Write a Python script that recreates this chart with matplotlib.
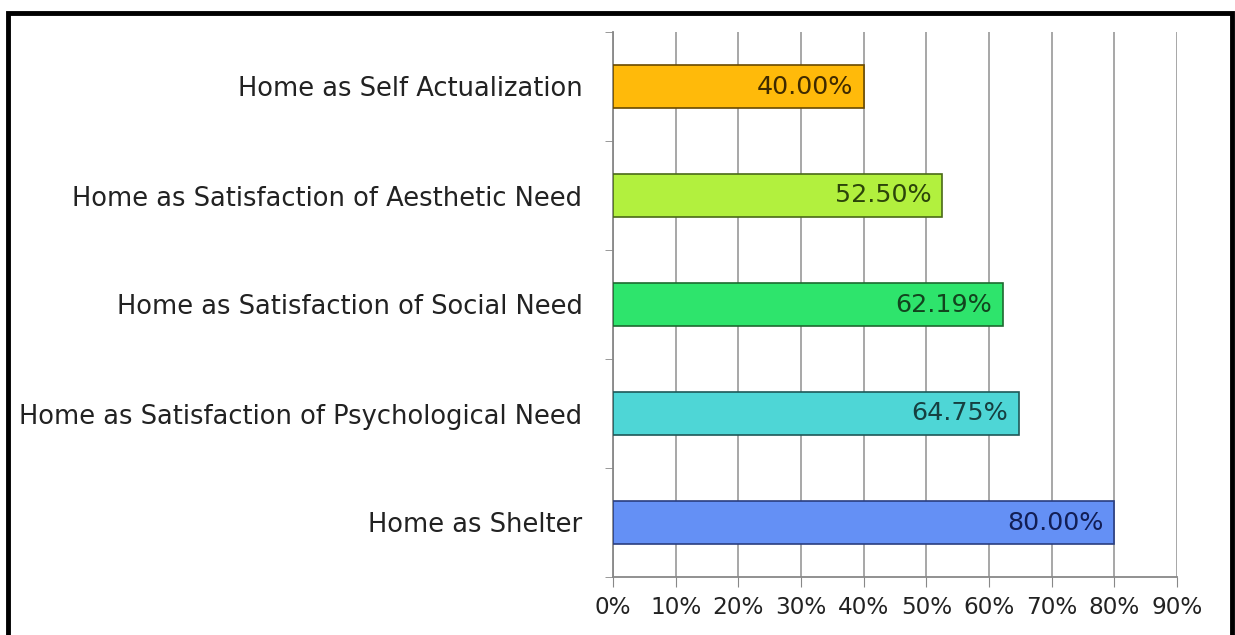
import matplotlib
matplotlib.use("Agg")
import matplotlib.pyplot as plt
from matplotlib.patches import Rectangle

categories = ["Home as Shelter",
              "Home as Satisfaction of Psychological Need",
              "Home as Satisfaction of Social Need",
              "Home as Satisfaction of Aesthetic Need",
              "Home as Self Actualization"]
values = [80.00, 64.75, 62.19, 52.50, 40.00]
value_labels = ["80.00%", "64.75%", "62.19%", "52.50%", "40.00%"]
xticks = [0, 10, 20, 30, 40, 50, 60, 70, 80, 90]
xtick_labels = ["0%", "10%", "20%", "30%", "40%", "50%", "60%", "70%", "80%", "90%"]

bar_colors = ["#6490F5", "#4ED6D6", "#2EE46C", "#B2F03E", "#FFBA0A"]
edge_colors = ["#2A3E80", "#1E5858", "#1E6A30", "#4A6A18", "#6A4A00"]
text_colors = ["#121E55", "#163F40", "#12441E", "#2C450A", "#3F2A00"]

plt.rcParams['font.family'] = ['DejaVu Sans']
fig = plt.figure(figsize=(12.35, 6.35), dpi=100)
ax = fig.add_axes([613/1235, 1 - 577/635, (1177-613)/1235, (577-32)/635])

ypos = list(range(len(categories)))
ax.barh(ypos, values, height=0.4, color=bar_colors, edgecolor=edge_colors, linewidth=1.2, zorder=3)
for y, v, lab, tc in zip(ypos, values, value_labels, text_colors):
    ax.text(v - 1.7, y, lab, ha='right', va='center', fontsize=18.3, color=tc, zorder=4)

ax.set_xlim(0, 90)
ax.set_ylim(-0.5, len(categories) - 0.5)
ax.set_xticks(xticks)
ax.set_xticklabels(xtick_labels, fontsize=16.7, color="#222222")
ax.set_yticks(ypos)
ax.set_yticklabels(categories, fontsize=18.5, color="#222222")
ax.tick_params(axis='y', length=0, pad=22)
ax.tick_params(axis='x', length=7, color="#888888", pad=7)
ax.set_yticks([i - 0.5 for i in range(len(categories) + 1)], minor=True)
ax.tick_params(axis='y', which='minor', length=6, color="#888888")
ax.grid(axis='x', color="#A0A0A0", linewidth=1.3, zorder=0)
for s in ['top', 'right']:
    ax.spines[s].set_visible(False)
for s in ['left', 'bottom']:
    ax.spines[s].set_color("#888888")
    ax.spines[s].set_linewidth(1.3)

fig.patches.append(Rectangle((8/1235, -0.05), (1232-8)/1235, 1 - 13/635 + 0.05,
                             transform=fig.transFigure, fill=False,
                             edgecolor='black', linewidth=3.5))
fig.savefig("out.png", dpi=100, facecolor='white')
